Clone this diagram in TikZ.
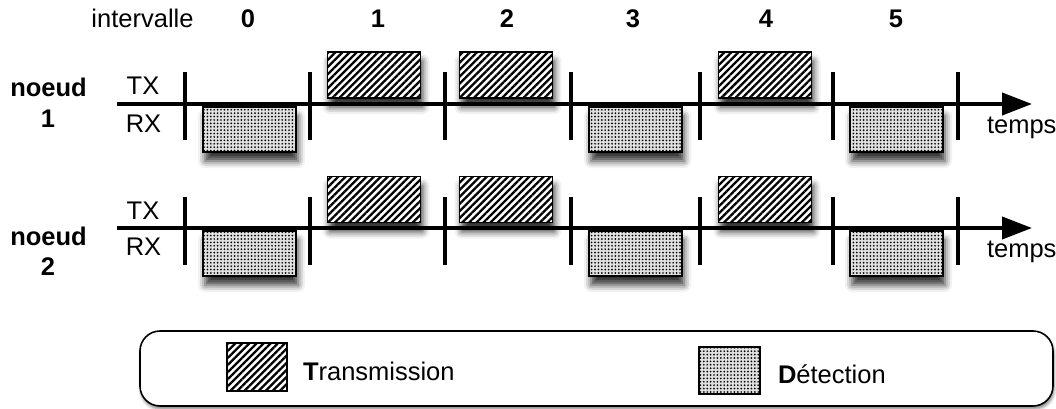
\documentclass[tikz,border=0pt]{standalone}
\usepackage{fontspec}
\setmainfont{Liberation Sans}
\usetikzlibrary{patterns.meta,arrows.meta,shadows.blur}
\begin{document}
\begin{tikzpicture}[x=1pt,y=-1pt,
  every node/.style={font=\fontsize{25.5}{30}\selectfont, inner sep=0pt, outer sep=0pt},
  lbl/.style={anchor=base},
  bl/.style={anchor=base, font=\fontsize{25.5}{30}\selectfont\bfseries},
  softshadow/.style={blur shadow={shadow xshift=2pt, shadow yshift=-9pt, shadow blur radius=7pt, shadow opacity=80}},
  hatch/.style={preaction={fill=white}, draw=black, line width=1.6pt,
    pattern={Lines[angle=45, distance=5pt, line width=2.3pt]}, pattern color=black},
  dots/.style={preaction={fill=black!12}, draw=black, line width=1.6pt,
    pattern={Dots[distance=3.4pt, radius=0.95pt]}, pattern color=black},
  txbox/.style={softshadow, hatch, minimum width=93pt, minimum height=46pt},
  rxbox/.style={softshadow, dots, minimum width=93pt, minimum height=45pt},
  axis/.style={line width=4pt, -{Triangle[length=30pt, width=22pt]}},
  tick/.style={line width=3.6pt},
  legendbox/.style={blur shadow={shadow xshift=1pt, shadow yshift=-3pt, shadow blur radius=3pt, shadow opacity=50},
    fill=white, draw=black, line width=1.6pt, rounded corners=20pt}
]
\useasboundingbox (0,0) rectangle (1056,409);

% header
\node[lbl] (hint) at (142.5,28) {intervalle};
\node[bl] (h0) at (248,28) {0};
\node[bl] (h1) at (378,28) {1};
\node[bl] (h2) at (507,28) {2};
\node[bl] (h3) at (633,28) {3};
\node[bl] (h4) at (766,28) {4};
\node[bl] (h5) at (896,28) {5};

% timeline 1 boxes
\node[rxbox] (r10) at (249.5,129.5) {};
\node[txbox] (t11) at (374,75) {};
\node[txbox] (t12) at (506,75) {};
\node[rxbox] (r13) at (635.5,129.5) {};
\node[txbox] (t14) at (765,75) {};
\node[rxbox] (r15) at (896.5,129.5) {};

% timeline 2 boxes
\node[rxbox] (r20) at (249.5,253.5) {};
\node[txbox] (t21) at (374,199.5) {};
\node[txbox] (t22) at (506,199.5) {};
\node[rxbox] (r23) at (635.5,253.5) {};
\node[txbox] (t24) at (765,199.5) {};
\node[rxbox] (r25) at (896.5,253.5) {};

% axes
\coordinate (a1s) at (117,104);
\coordinate (a1e) at (1032,104);
\coordinate (a2s) at (117,228);
\coordinate (a2e) at (1032,228);
\draw[axis] (a1s) -- (a1e);
\draw[axis] (a2s) -- (a2e);

% ticks
\foreach \x [count=\i] in {185,310,445,571,700,833,958}{
  \coordinate (k1t\i) at (\x,72);
  \coordinate (k1b\i) at (\x,140);
  \coordinate (k2t\i) at (\x,197);
  \coordinate (k2b\i) at (\x,265);
  \draw[tick] (k1t\i) -- (k1b\i);
  \draw[tick] (k2t\i) -- (k2b\i);
}

% labels timeline 1
\node[bl] (n1a) at (48.5,97) {noeud};
\node[bl] (n1b) at (48,128) {1};
\node[lbl] (tx1) at (143,95) {TX};
\node[lbl] (rx1) at (143.5,132) {RX};
\node[anchor=base west] (tp1) at (987,133) {temps};

% labels timeline 2
\node[bl] (n2a) at (48.5,245) {noeud};
\node[bl] (n2b) at (48,275) {2};
\node[lbl] (tx2) at (143,219) {TX};
\node[lbl] (rx2) at (143.5,255) {RX};
\node[anchor=base west] (tp2) at (987,257) {temps};

% legend
\draw[legendbox] (140,331) rectangle (1053,406);
\node[hatch, minimum width=60pt, minimum height=48pt] (lt) at (257,367) {};
\node[dots, minimum width=61pt, minimum height=47pt] (lr) at (729.5,370.5) {};
\node[anchor=base west] (ltt) at (303,380) {\textbf{T}ransmission};
\node[anchor=base west] (lrt) at (778,383) {\textbf{D}étection};
\end{tikzpicture}
\end{document}
